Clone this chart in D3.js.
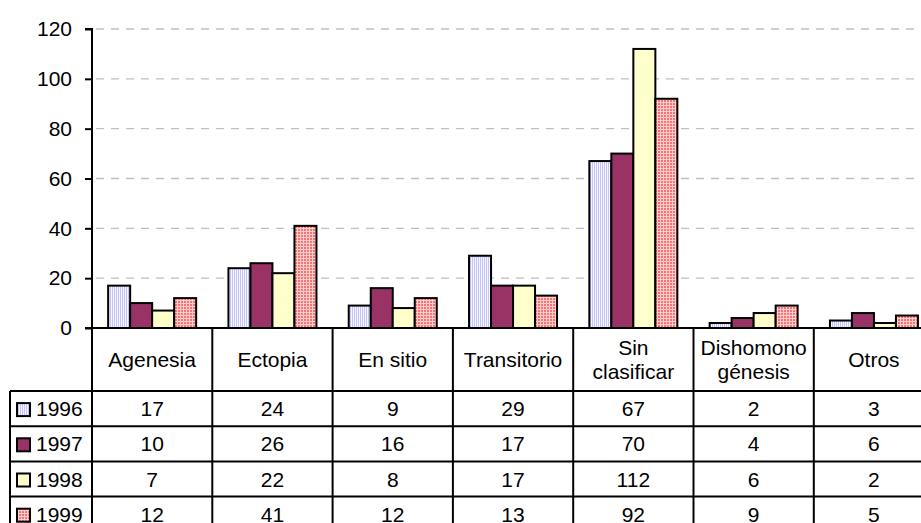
<!DOCTYPE html>
<html>
<head>
<meta charset="utf-8">
<script src="https://cdn.jsdelivr.net/npm/d3@7"></script>
<style>
  html, body { margin: 0; padding: 0; background: #ffffff; }
  svg { display: block; }
  text { font-family: "Liberation Sans", Arial, sans-serif; fill: #000; }
</style>
</head>
<body>
<svg id="chart" width="921" height="523"></svg>
<script>
// Categories (header of the data table, split into lines)
const categories = ["Agenesia", "Ectopia", "En sitio", "Transitorio", "Sin clasificar", "Dishomono génesis", "Otros"];
const categoryLines = [["Agenesia"], ["Ectopia"], ["En sitio"], ["Transitorio"], ["Sin", "clasificar"], ["Dishomono", "génesis"], ["Otros"]];

// Series, one per year
const years = ["1996", "1997", "1998", "1999"];
const values1996 = [17, 24, 9, 29, 67, 2, 3];
const values1997 = [10, 26, 16, 17, 70, 4, 6];
const values1998 = [7, 22, 8, 17, 112, 6, 2];
const values1999 = [12, 41, 12, 13, 92, 9, 5];
const seriesValues = [values1996, values1997, values1998, values1999];

// Value axis ticks
const yTicks = [0, 20, 40, 60, 80, 100, 120];

const svg = d3.select("#chart");
const W = 921, H = 523;

// Plot geometry
const plotLeft = 92, bandW = 120.3;
const plotTop = 29, zeroY = 328;
const plotRight = plotLeft + bandW * categories.length;

// Fills: patterns for 1996 (vertical stripes) and 1999 (small grid)
const defs = svg.append("defs");
const pStripe = defs.append("pattern").attr("id", "stripe96")
  .attr("patternUnits", "userSpaceOnUse").attr("width", 2).attr("height", 4);
pStripe.append("rect").attr("width", 2).attr("height", 4).attr("fill", "#f6f6ff");
pStripe.append("rect").attr("width", 1).attr("height", 4).attr("fill", "#c4c4f8");

const pGrid = defs.append("pattern").attr("id", "grid99")
  .attr("patternUnits", "userSpaceOnUse").attr("width", 3).attr("height", 3);
pGrid.append("rect").attr("width", 3).attr("height", 3).attr("fill", "#ff7070");
pGrid.append("rect").attr("width", 3).attr("height", 1).attr("fill", "#ffd0d0");
pGrid.append("rect").attr("width", 1).attr("height", 3).attr("fill", "#ffd0d0");

const fills = ["url(#stripe96)", "#993366", "#ffffcc", "url(#grid99)"];

// Scales
const x0 = d3.scaleBand().domain(categories).range([plotLeft, plotRight]).padding(0);
const x1 = d3.scaleBand().domain(years).range([0, x0.bandwidth()])
  .paddingInner(0).paddingOuter(0.734);
const y = d3.scaleLinear().domain([0, 120]).range([zeroY, plotTop]);

// Dashed gridlines
svg.append("g").selectAll("line").data(yTicks.filter(d => d > 0)).join("line")
  .attr("x1", plotLeft + 4).attr("x2", W)
  .attr("y1", d => y(d)).attr("y2", d => y(d))
  .attr("stroke", "#c0c0c0").attr("stroke-width", 1.3)
  .attr("stroke-dasharray", "8,7");

// Bars
const bars = svg.append("g");
years.forEach((yr, si) => {
  bars.append("g").selectAll("rect").data(seriesValues[si]).join("rect")
    .attr("x", (d, i) => x0(categories[i]) + x1(yr))
    .attr("width", x1.bandwidth())
    .attr("y", d => y(d))
    .attr("height", d => zeroY - y(d))
    .attr("fill", fills[si])
    .attr("stroke", "#000").attr("stroke-width", 2);
});

// Value axis
const yAxis = d3.axisLeft(y).tickValues(yTicks).tickSize(7).tickPadding(13);
const gy = svg.append("g").attr("transform", `translate(${plotLeft},0)`).call(yAxis);
gy.select(".domain").attr("stroke", "#000").attr("stroke-width", 2)
  .attr("d", `M-7,${plotTop}H0V${zeroY}`);
gy.selectAll(".tick line").attr("stroke", "#000").attr("stroke-width", 2);
gy.selectAll(".tick text").attr("font-size", 21)
  .attr("font-family", "'Liberation Sans', Arial, sans-serif").attr("fill", "#000");

// Category axis line at zero
svg.append("line").attr("x1", plotLeft - 7).attr("x2", W)
  .attr("y1", zeroY).attr("y2", zeroY)
  .attr("stroke", "#000").attr("stroke-width", 2);

// Data table
const headerBottom = 391, rowH = 35.2;
const legendLeft = 10;
const table = svg.append("g");
const lineStyle = sel => sel.attr("stroke", "#000").attr("stroke-width", 2);

// vertical dividers of category columns
table.selectAll("line.v").data(d3.range(categories.length + 1)).join("line")
  .attr("class", "v")
  .attr("x1", i => plotLeft + i * bandW).attr("x2", i => plotLeft + i * bandW)
  .attr("y1", zeroY).attr("y2", H + 20)
  .call(lineStyle);
// legend column left edge
table.append("line").attr("x1", legendLeft).attr("x2", legendLeft)
  .attr("y1", headerBottom).attr("y2", H + 20).call(lineStyle);
// horizontal row lines
table.selectAll("line.h").data(d3.range(years.length + 1)).join("line")
  .attr("class", "h")
  .attr("x1", legendLeft).attr("x2", plotRight)
  .attr("y1", i => headerBottom + i * rowH).attr("y2", i => headerBottom + i * rowH)
  .call(lineStyle);

// header texts
const headerMid = (zeroY + headerBottom) / 2;
categoryLines.forEach((lines, i) => {
  const cx = x0(categories[i]) + x0.bandwidth() / 2;
  const t = table.append("text").attr("text-anchor", "middle").attr("font-size", 21);
  const lh = 24;
  const y0 = headerMid - (lines.length - 1) * lh / 2;
  lines.forEach((ln, k) => {
    t.append("tspan").attr("x", cx).attr("y", y0 + k * lh).attr("dy", "0.35em").text(ln);
  });
});

// rows: legend key + year + values
years.forEach((yr, si) => {
  const cy = headerBottom + si * rowH + rowH / 2;
  table.append("rect").attr("x", 17).attr("y", cy - 5.5).attr("width", 13).attr("height", 13)
    .attr("fill", fills[si]).attr("stroke", "#000").attr("stroke-width", 2);
  table.append("text").attr("x", 36).attr("y", cy).attr("dy", "0.36em")
    .attr("font-size", 21).text(yr);
  seriesValues[si].forEach((v, i) => {
    table.append("text").attr("x", x0(categories[i]) + x0.bandwidth() / 2)
      .attr("y", cy).attr("dy", "0.36em").attr("text-anchor", "middle")
      .attr("font-size", 21).text(v);
  });
});
</script>
</body>
</html>
